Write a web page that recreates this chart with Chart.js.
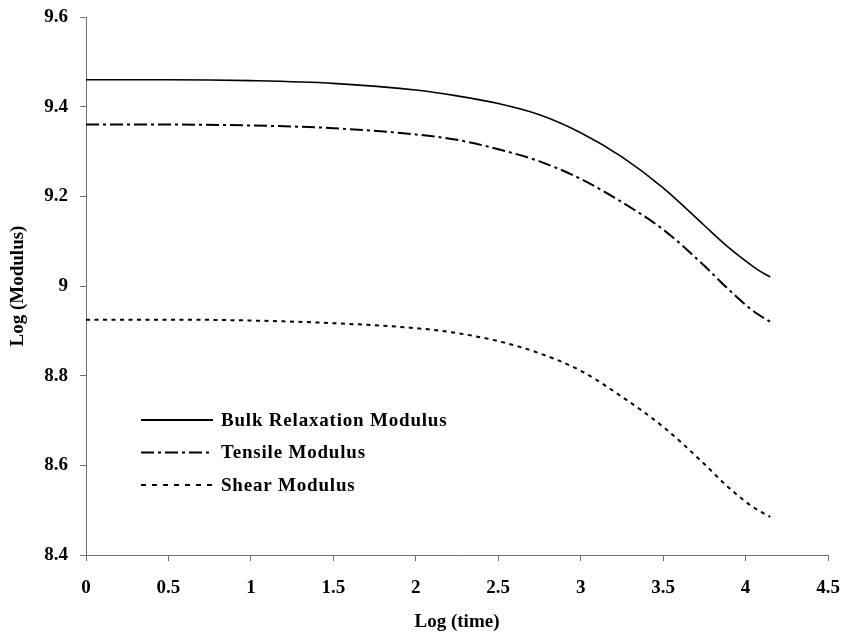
<!DOCTYPE html>
<html>
<head>
<meta charset="utf-8">
<script src="https://cdn.jsdelivr.net/npm/chart.js@4.4.1/dist/chart.umd.min.js"></script>
<style>
  body { margin: 0; background: #fff; }
  #chart { display: block; }
</style>
</head>
<body>
<canvas id="chart" width="844" height="637"></canvas>
<script>
// values
const logTime = [0, 0.5, 1, 1.5, 2, 2.25, 2.5, 2.75, 3, 3.25, 3.5, 3.75, 3.875, 4, 4.075, 4.15];
const bulkModulus = [9.46, 9.46, 9.458, 9.452, 9.437, 9.424, 9.407, 9.382, 9.342, 9.288, 9.219, 9.135, 9.093, 9.056, 9.036, 9.02];
const tensileModulus = [9.36, 9.36, 9.358, 9.352, 9.338, 9.326, 9.305, 9.278, 9.239, 9.187, 9.126, 9.045, 9.0, 8.958, 8.937, 8.92];
const shearModulus = [8.925, 8.925, 8.923, 8.917, 8.906, 8.895, 8.877, 8.85, 8.811, 8.753, 8.686, 8.603, 8.558, 8.519, 8.5, 8.485];
const seriesNames = ["Bulk Relaxation Modulus", "Tensile Modulus", "Shear Modulus"];

const xTickValues = [0, 0.5, 1, 1.5, 2, 2.5, 3, 3.5, 4, 4.5];
const xTickLabels = ["0", "0.5", "1", "1.5", "2", "2.5", "3", "3.5", "4", "4.5"];
const yTickValues = [8.4, 8.6, 8.8, 9, 9.2, 9.4, 9.6];
const yTickLabels = ["8.4", "8.6", "8.8", "9", "9.2", "9.4", "9.6"];

const FONT = "'Liberation Serif', 'Times New Roman', serif";
const axisColor = "#707070";

function toPoints(ys) {
    return logTime.map((x, i) => ({ x: x, y: ys[i] }));
}

// legend drawn inside the plot, like the original
const insideLegend = {
    id: "insideLegend",
    afterDatasetsDraw(chart) {
        const ctx = chart.ctx;
        const area = chart.chartArea;
        const x0 = area.left + 55;
        const x1 = area.left + 127;
        ctx.save();
        ctx.font = "bold 19px " + FONT;
        ctx.letterSpacing = "0.8px";
        ctx.fillStyle = "#000";
        ctx.textBaseline = "middle";
        chart.data.datasets.forEach((ds, i) => {
            const y = 420 + i * 32.5;
            ctx.strokeStyle = "#000";
            ctx.lineWidth = 2;
            ctx.setLineDash(ds.legendDash || []);
            ctx.beginPath();
            ctx.moveTo(x0, y);
            ctx.lineTo(x1, y);
            ctx.stroke();
            ctx.setLineDash([]);
            ctx.fillText(ds.label, x1 + 8, y + 1);
        });
        ctx.restore();
    }
};

const ctx = document.getElementById("chart").getContext("2d");
new Chart(ctx, {
    type: "line",
    data: {
        datasets: [
            {
                label: seriesNames[0],
                data: toPoints(bulkModulus),
                borderColor: "#000",
                borderWidth: 1.6,
                legendDash: []
            },
            {
                label: seriesNames[1],
                data: toPoints(tensileModulus),
                borderColor: "#000",
                borderWidth: 2,
                borderDash: [13, 4, 3, 4],
                legendDash: [13, 4, 3, 4]
            },
            {
                label: seriesNames[2],
                data: toPoints(shearModulus),
                borderColor: "#000",
                borderWidth: 2,
                borderDash: [4, 4.5],
                legendDash: [5, 6]
            }
        ]
    },
    options: {
        responsive: false,
        animation: false,
        cubicInterpolationMode: "monotone",
        elements: { point: { radius: 0 } },
        layout: { padding: { top: 17, right: 16, left: 0, bottom: 0 } },
        plugins: {
            legend: { display: false },
            tooltip: { enabled: false }
        },
        scales: {
            x: {
                type: "linear",
                min: 0,
                max: 4.5,
                afterBuildTicks: (axis) => { axis.ticks = xTickValues.map(v => ({ value: v })); },
                afterFit: (axis) => {
                    axis.height = 82;
                    axis.paddingLeft = 0;
                    axis.paddingRight = 0;
                },
                ticks: {
                    callback: (v, i) => xTickLabels[i],
                    color: "#000",
                    font: { family: FONT, size: 19, weight: "bold" },
                    padding: 16,
                    maxRotation: 0
                },
                grid: { drawOnChartArea: false, tickLength: 6, color: axisColor },
                border: { color: axisColor, width: 1 },
                title: {
                    display: true,
                    text: "Log (time)",
                    color: "#000",
                    font: { family: FONT, size: 19, weight: "bold" },
                    padding: { top: 5, bottom: 4 }
                }
            },
            y: {
                type: "linear",
                min: 8.4,
                max: 9.6,
                afterBuildTicks: (axis) => { axis.ticks = yTickValues.map(v => ({ value: v })); },
                afterFit: (axis) => {
                    axis.width = 86;
                    axis.paddingTop = 0;
                    axis.paddingBottom = 0;
                },
                ticks: {
                    callback: (v, i) => yTickLabels[i],
                    color: "#000",
                    font: { family: FONT, size: 19, weight: "bold" },
                    padding: 12
                },
                grid: { drawOnChartArea: false, tickLength: 6, color: axisColor },
                border: { color: axisColor, width: 1 },
                title: {
                    display: true,
                    text: "Log (Modulus)",
                    color: "#000",
                    font: { family: FONT, size: 19, weight: "bold" },
                    padding: { top: 7, bottom: 5 }
                }
            }
        }
    },
    plugins: [insideLegend]
});
</script>
</body>
</html>
